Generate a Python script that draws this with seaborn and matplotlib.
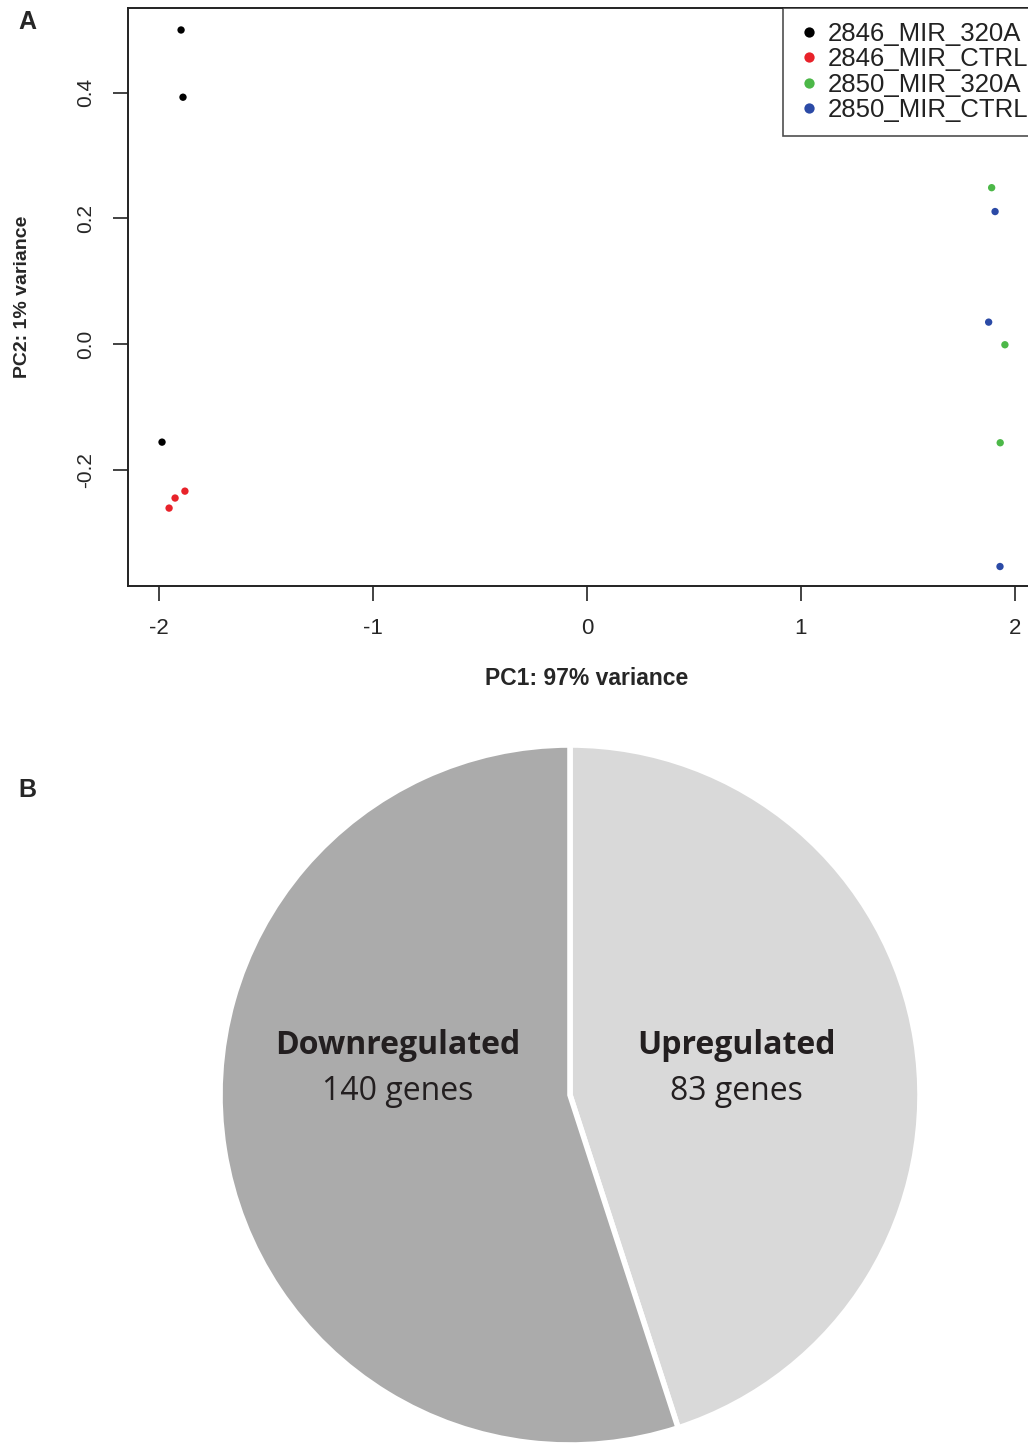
import numpy as np
import pandas as pd
import matplotlib
matplotlib.use("Agg")
import matplotlib.pyplot as plt
import seaborn as sns

# PCA coordinates
groups = ["2846_MIR_320A"] * 3 + ["2846_MIR_CTRL"] * 3 + ["2850_MIR_320A"] * 3 + ["2850_MIR_CTRL"] * 3
pc1 = [-1.897, -1.888, -1.986,
       -1.879, -1.925, -1.953,
       1.891, 1.953, 1.931,
       1.907, 1.877, 1.930]
pc2 = [0.500, 0.393, -0.156,
       -0.234, -0.245, -0.261,
       0.249, -0.001, -0.157,
       0.211, 0.035, -0.354]
group_order = ["2846_MIR_320A", "2846_MIR_CTRL", "2850_MIR_320A", "2850_MIR_CTRL"]
group_colors = ["#000000", "#e8222a", "#4cb848", "#2b4aa6"]

# panel B
pie_labels = ["Upregulated", "Downregulated"]
gene_counts = [83, 140]
wedge_share = [45.0, 55.0]   # as drawn in the figure
pie_colors = ["#d9d9d9", "#ababab"]

sns.set_style("white")
plt.rcParams["font.family"] = ["Liberation Sans", "DejaVu Sans"]

W, H = 1028, 1444
fig = plt.figure(figsize=(W / 100, H / 100), dpi=100)

df = pd.DataFrame({"PC1": pc1, "PC2": pc2, "group": groups})

# panel A axes: box from x=128 to ~1046 px (clipped), y=8..586 px
ax = fig.add_axes([128 / W, 1 - 586 / H, (1046 - 128) / W, (586 - 8) / H])
sns.scatterplot(data=df, x="PC1", y="PC2", hue="group", hue_order=group_order,
                palette=group_colors, s=28, edgecolor="none", ax=ax, legend=True)
ax.set_xlim(-2.145, 2.145)
ax.set_ylim(-0.385, 0.535)
ax.set_xticks([-2, -1, 0, 1, 2])
ax.set_xticklabels(["-2", "-1", "0", "1", "2"])
ax.set_yticks([-0.2, 0.0, 0.2, 0.4])
ax.set_yticklabels(["-0.2", "0.0", "0.2", "0.4"], rotation=90, va="center")
ax.tick_params(axis="both", direction="out", length=11, width=1.2, color="#222222",
               left=True, bottom=True)
ax.tick_params(axis="x", labelsize=16, pad=12)
ax.tick_params(axis="y", labelsize=15, pad=13)
for sp in ax.spines.values():
    sp.set_color("#222222")
    sp.set_linewidth(1.4)
ax.set_xlabel("PC1: 97% variance", fontsize=16.5, fontweight="bold", labelpad=20)
ax.set_ylabel("PC2: 1% variance", fontsize=14, fontweight="bold", labelpad=32)

handles, labels = ax.get_legend_handles_labels()
ax.get_legend().remove()
leg = ax.legend(handles, labels, loc="upper left", bbox_to_anchor=(783 / W, 1 - 8 / H),
                bbox_transform=fig.transFigure, frameon=True, fancybox=False,
                fontsize=18.5, handletextpad=0.3, borderpad=0.55, labelspacing=0.05,
                markerscale=1.4, handlelength=0.9, borderaxespad=0)
leg.get_frame().set_edgecolor("#222222")
leg.get_frame().set_linewidth(1.2)
for t in leg.get_texts():
    t.set_color("#222222")

fig.text(27 / W, 1 - 22 / H, "A", fontsize=18, fontweight="bold", ha="center", va="center")
fig.text(27 / W, 1 - 790 / H, "B", fontsize=18, fontweight="bold", ha="center", va="center")

# panel B: pie centred at (570, 1095) px with radius 350 px
r = 350
axp = fig.add_axes([(570 - r) / W, 1 - (1095 + r) / H, 2 * r / W, 2 * r / H])
axp.pie(wedge_share, colors=pie_colors, startangle=90, counterclock=False, radius=1,
        wedgeprops=dict(edgecolor="white", linewidth=4), frame=False)
axp.set_xlim(-1, 1)
axp.set_ylim(-1, 1)
axp.set_aspect("equal")
axp.axis("off")

fam = ["Open Sans", "DejaVu Sans"]
label_pos = [(736, 1045), (398, 1045)]
for name, n, (px, py) in zip(pie_labels, gene_counts, label_pos):
    fig.text(px / W, 1 - py / H, name, fontsize=23, fontweight="bold", family=fam,
             ha="center", va="center", color="#231f20")
    fig.text(px / W, 1 - (py + 46) / H, f"{n} genes", fontsize=23, family=fam,
             ha="center", va="center", color="#231f20")

fig.savefig("out.png", dpi=100)
